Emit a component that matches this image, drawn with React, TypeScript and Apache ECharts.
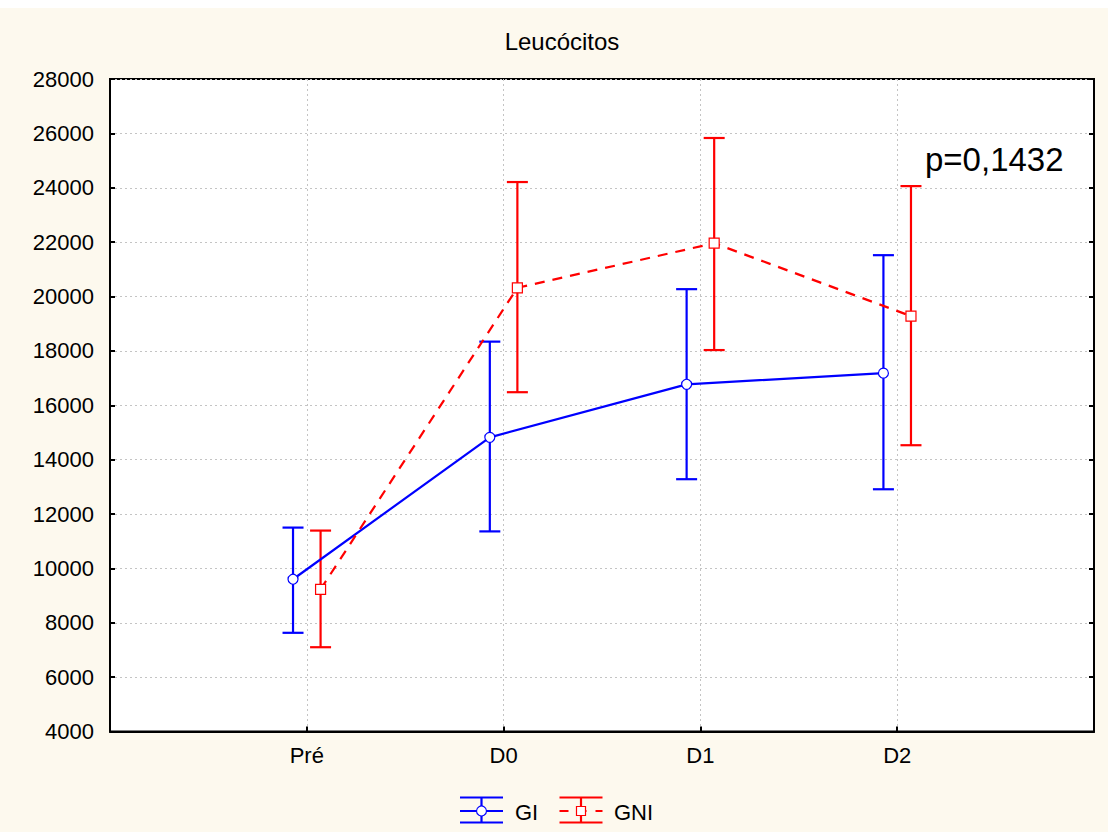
import React, { useEffect, useRef } from "react";
import * as echarts from "echarts";

const categories = ["Pré", "D0", "D1", "D2"];
const yTicks = [4000, 28000, 2000];
const giMean = [9600, 14820, 16770, 17180];
const giLow = [7630, 11360, 13280, 12910];
const giHigh = [11500, 18340, 20270, 21520];
const gniMean = [9230, 20320, 21960, 19280];
const gniLow = [7100, 16480, 18030, 14530];
const gniHigh = [11390, 24210, 25830, 24060];
const pText = "p=0,1432";
const titleText = "Leucócitos";

const OFF = 0.07;
const BLUE = "#0000FF";
const RED = "#FF0000";
const BG = "#FDF9EE";
const FONT = "'Liberation Sans', Arial, sans-serif";

function errorSeries(name: string, low: number[], high: number[], off: number, color: string) {
  const data = categories.map((_, i) => [i + 1 + off, low[i], high[i]]);
  return {
    name: name + "_err",
    type: "custom",
    z: 2,
    data,
    renderItem: (params: any, api: any) => {
      const x = api.value(0);
      const lo = api.coord([x, api.value(1)]);
      const hi = api.coord([x, api.value(2)]);
      const hw = 10.5;
      const style = { stroke: color, lineWidth: 2.2 };
      return {
        type: "group",
        children: [
          { type: "line", shape: { x1: lo[0], y1: lo[1], x2: hi[0], y2: hi[1] }, style },
          { type: "line", shape: { x1: lo[0] - hw, y1: lo[1], x2: lo[0] + hw, y2: lo[1] }, style },
          { type: "line", shape: { x1: hi[0] - hw, y1: hi[1], x2: hi[0] + hw, y2: hi[1] }, style },
        ],
      };
    },
  };
}

export default function App() {
  const ref = useRef<HTMLDivElement>(null);
  useEffect(() => {
    if (!ref.current) return;
    const chart = echarts.init(ref.current, null, { renderer: "svg" });
    const dy = 8;
    const lgY = [797.5 - dy, 811 - dy, 822.5 - dy];
    const legendIcon = (x0: number, color: string, square: boolean) => {
      const cx = x0 + 21.5;
      const s = { stroke: color, lineWidth: 2.2 };
      const els: any[] = [
        { type: "line", shape: { x1: x0, y1: lgY[0], x2: x0 + 43, y2: lgY[0] }, style: s },
        { type: "line", shape: { x1: x0, y1: lgY[2], x2: x0 + 43, y2: lgY[2] }, style: s },
        { type: "line", shape: { x1: cx, y1: lgY[0], x2: cx, y2: lgY[2] }, style: s },
      ];
      if (square) {
        els.push({ type: "line", shape: { x1: x0, y1: lgY[1], x2: x0 + 43, y2: lgY[1] }, style: { ...s, lineDash: [9, 9] } });
        els.push({ type: "rect", shape: { x: cx - 4.5, y: lgY[1] - 4.5, width: 9, height: 9 }, style: { fill: "#fff", stroke: color, lineWidth: 1.2 } });
      } else {
        els.push({ type: "line", shape: { x1: x0, y1: lgY[1], x2: x0 + 43, y2: lgY[1] }, style: s });
        els.push({ type: "circle", shape: { cx, cy: lgY[1], r: 5 }, style: { fill: "#fff", stroke: color, lineWidth: 1.2 } });
      }
      return els;
    };
    const labelStyle = { color: "#000", fontSize: 22, fontFamily: FONT };
    const option: any = {
      animation: false,
      backgroundColor: BG,
      grid: {
        left: 110,
        right: 14,
        top: 79 - dy,
        bottom: 824 - (731.5 - dy),
        show: true,
        backgroundColor: "#fff",
        borderColor: "#000",
        borderWidth: 2,
      },
      xAxis: {
        type: "value",
        min: 0,
        max: 5,
        interval: 1,
        axisLine: { show: true, lineStyle: { color: "#000", width: 2 } },
        axisTick: { show: true, inside: true, length: 5, lineStyle: { color: "#000", width: 2 } },
        axisLabel: {
          ...labelStyle,
          margin: 13,
          formatter: (v: number) => (v >= 1 && v <= categories.length ? categories[v - 1] : ""),
        },
        splitLine: { show: true, lineStyle: { color: "#c4c4c4", type: [2, 3], width: 1 } },
      },
      yAxis: [
        {
          type: "value",
          min: yTicks[0],
          max: yTicks[1],
          interval: yTicks[2],
          axisLine: { show: true, lineStyle: { color: "#000", width: 2 } },
          axisTick: { show: true, inside: true, length: 5, lineStyle: { color: "#000", width: 2 } },
          axisLabel: { ...labelStyle, margin: 16, formatter: (v: number) => String(v) },
          splitLine: { show: true, lineStyle: { color: "#c4c4c4", type: [2, 3], width: 1 } },
        },
        {
          type: "value",
          position: "right",
          min: yTicks[0],
          max: yTicks[1],
          interval: yTicks[2],
          axisLine: { show: true, lineStyle: { color: "#000", width: 2 } },
          axisTick: { show: true, inside: true, length: 5, lineStyle: { color: "#000", width: 2 } },
          axisLabel: { show: false },
          splitLine: { show: false },
        },
      ],
      series: [
        errorSeries("GI", giLow, giHigh, -OFF, BLUE),
        errorSeries("GNI", gniLow, gniHigh, OFF, RED),
        {
          name: "GI",
          type: "line",
          z: 3,
          data: categories.map((_, i) => [i + 1 - OFF, giMean[i]]),
          symbol: "circle",
          symbolSize: 10,
          lineStyle: { color: BLUE, width: 2.2 },
          itemStyle: { color: "#fff", borderColor: BLUE, borderWidth: 1.2 },
        },
        {
          name: "GNI",
          type: "line",
          z: 3,
          data: categories.map((_, i) => [i + 1 + OFF, gniMean[i]]),
          symbol: "rect",
          symbolSize: 10,
          lineStyle: { color: RED, width: 2.2, type: [10, 8] },
          itemStyle: { color: "#fff", borderColor: RED, borderWidth: 1.2 },
        },
      ],
      graphic: [
        {
          type: "text",
          x: 562,
          y: 41 - dy,
          style: { text: titleText, fontSize: 24, fontFamily: FONT, fill: "#000", textAlign: "center", textVerticalAlign: "middle" },
        },
        {
          type: "text",
          x: 925,
          y: 159 - dy,
          style: { text: pText, fontSize: 33, fontFamily: FONT, fill: "#000", textAlign: "left", textVerticalAlign: "middle" },
        },
        ...legendIcon(460, BLUE, false),
        { type: "text", x: 515, y: lgY[1] + 1, style: { text: "GI", fontSize: 22, fontFamily: FONT, fill: "#000", textVerticalAlign: "middle" } },
        ...legendIcon(559.5, RED, true),
        { type: "text", x: 614, y: lgY[1] + 1, style: { text: "GNI", fontSize: 22, fontFamily: FONT, fill: "#000", textVerticalAlign: "middle" } },
      ],
    };
    chart.setOption(option);
    return () => chart.dispose();
  }, []);
  return (
    <div
      ref={ref}
      style={{ position: "fixed", left: 0, top: 8, width: 1108, height: 824 }}
    />
  );
}
